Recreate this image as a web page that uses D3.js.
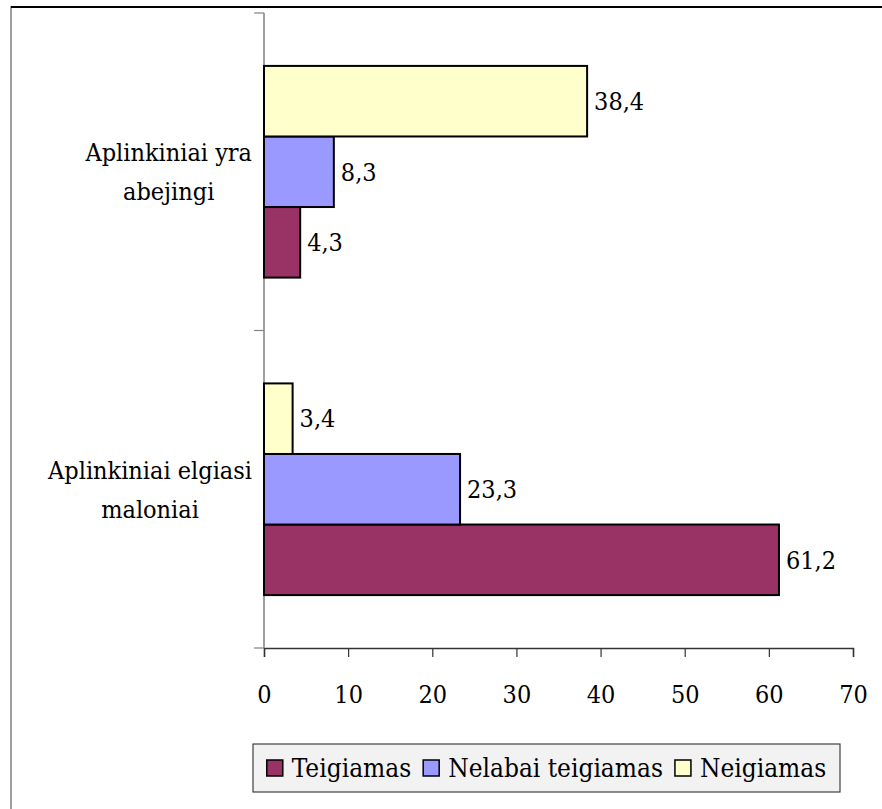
<!DOCTYPE html>
<html>
<head>
<meta charset="utf-8">
<script src="https://cdn.jsdelivr.net/npm/d3@7"></script>
<style>
  body { margin: 0; background: #fff; }
  svg text { font-family: "DejaVu Serif Condensed", "DejaVu Serif", serif; font-stretch: condensed; fill: #000; }
</style>
</head>
<body>
<div id="chart"></div>
<script>
// data (first category sits at the bottom)
var categories = ["Aplinkiniai elgiasi maloniai", "Aplinkiniai yra abejingi"];
var categoryLines = [["Aplinkiniai elgiasi", "maloniai"], ["Aplinkiniai yra", "abejingi"]];
var seriesNames = ["Teigiamas", "Nelabai teigiamas", "Neigiamas"];
var seriesColors = ["#993366", "#9999FF", "#FFFFCC"];
var teigiamas = [61.2, 4.3];
var nelabaiTeigiamas = [23.3, 8.3];
var neigiamas = [3.4, 38.4];
var xTicks = [0, 10, 20, 30, 40, 50, 60, 70];

var seriesValues = [teigiamas, nelabaiTeigiamas, neigiamas];

var width = 882, height = 809;
var plot = {left: 264, right: 853, top: 13, bottom: 648};
var fontSize = 25;

var svg = d3.select("#chart").append("svg")
    .attr("width", width)
    .attr("height", height);

// outer frame (only top and left edges are visible)
svg.append("rect")
    .attr("x", 11).attr("y", 7)
    .attr("width", width + 20).attr("height", height + 20)
    .attr("fill", "none")
    .attr("stroke", "#808080")
    .attr("stroke-width", 1.5);
svg.append("line")
    .attr("x1", 11).attr("x2", width)
    .attr("y1", 7).attr("y2", 7)
    .attr("stroke", "#000").attr("stroke-width", 2);

// scales
var x = d3.scaleLinear()
    .domain([0, 70])
    .range([plot.left, plot.right]);

var y0 = d3.scaleBand()
    .domain(categories)
    .range([plot.bottom, plot.top]);

var y1 = d3.scaleBand()
    .domain(seriesNames)
    .range([y0.bandwidth(), 0])
    .paddingInner(0)
    .paddingOuter(0.75);

// x axis
var xAxis = d3.axisBottom(x).tickValues(xTicks).tickSize(9).tickPadding(28);
var gx = svg.append("g")
    .attr("transform", "translate(0," + plot.bottom + ")")
    .call(xAxis);
gx.select(".domain").attr("stroke", "#333").attr("stroke-width", 1.5);
gx.selectAll(".tick line").attr("stroke", "#333").attr("stroke-width", 1.2);
gx.selectAll(".tick text")
    .attr("font-size", fontSize)
    .attr("dy", "0.71em");

// y axis: ticks at the band boundaries
var yBounds = [plot.top, (plot.top + plot.bottom) / 2, plot.bottom];
svg.append("line")
    .attr("x1", plot.left).attr("x2", plot.left)
    .attr("y1", plot.top).attr("y2", plot.bottom)
    .attr("stroke", "#808080").attr("stroke-width", 1.5);
svg.selectAll(".ytick")
    .data(yBounds)
    .enter().append("line")
    .attr("class", "ytick")
    .attr("x1", plot.left - 10).attr("x2", plot.left)
    .attr("y1", function(d) { return d; })
    .attr("y2", function(d) { return d; })
    .attr("stroke", "#808080").attr("stroke-width", 1.2);

// category labels, two lines each, centred on one another
categories.forEach(function(c, i) {
    var t = svg.append("text")
        .attr("font-size", fontSize)
        .attr("text-anchor", "middle");
    categoryLines[i].forEach(function(l) {
        t.append("tspan").text(l);
    });
    var maxW = 0;
    t.selectAll("tspan").each(function() {
        maxW = Math.max(maxW, this.getComputedTextLength());
    });
    var cx = 252 - maxW / 2;
    var cy = y0(c) + y0.bandwidth() / 2;
    t.selectAll("tspan")
        .attr("x", cx)
        .attr("y", function(d, j) { return cy + (j - 0.5) * 39; })
        .attr("dy", "0.35em");
});

// bars
var fmt = function(v) { return d3.format(".1f")(v).replace(".", ","); };

seriesNames.forEach(function(s, si) {
    var g = svg.append("g");
    g.selectAll("rect")
        .data(seriesValues[si])
        .enter().append("rect")
        .attr("x", x(0))
        .attr("y", function(d, i) { return y0(categories[i]) + y1(s); })
        .attr("width", function(d) { return x(d) - x(0); })
        .attr("height", y1.bandwidth())
        .attr("fill", seriesColors[si])
        .attr("stroke", "#000")
        .attr("stroke-width", 2);
    g.selectAll("text")
        .data(seriesValues[si])
        .enter().append("text")
        .attr("x", function(d) { return x(d) + 7; })
        .attr("y", function(d, i) { return y0(categories[i]) + y1(s) + y1.bandwidth() / 2; })
        .attr("dy", "0.35em")
        .attr("font-size", fontSize)
        .text(fmt);
});

// legend
var legendLeft = 253, legendRight = 840, legendTop = 744, legendBottom = 792;
var legend = svg.append("g");
legend.append("rect")
    .attr("x", legendLeft).attr("y", legendTop)
    .attr("width", legendRight - legendLeft)
    .attr("height", legendBottom - legendTop)
    .attr("fill", "#f2f2f2")
    .attr("stroke", "#404040")
    .attr("stroke-width", 1.2);
var lx = 0;
var offsets = [];
var items = [];
var gapAfter = 12, swatchGap = 9;
seriesNames.forEach(function(s, si) {
    var it = legend.append("g");
    it.append("rect")
        .attr("x", 0).attr("y", -8)
        .attr("width", 16).attr("height", 16)
        .attr("fill", seriesColors[si])
        .attr("stroke", "#000").attr("stroke-width", 1.5);
    var t = it.append("text")
        .attr("x", 16 + swatchGap).attr("y", 0)
        .attr("dy", "0.35em")
        .attr("font-size", 26)
        .text(s);
    offsets.push(lx);
    lx += 16 + swatchGap + t.node().getComputedTextLength() + gapAfter;
    items.push(it);
});
var contentW = lx - gapAfter;
var startX = (legendLeft + legendRight) / 2 - contentW / 2;
items.forEach(function(it, i) {
    it.attr("transform", "translate(" + (startX + offsets[i]) + "," + ((legendTop + legendBottom) / 2) + ")");
});
</script>
</body>
</html>
